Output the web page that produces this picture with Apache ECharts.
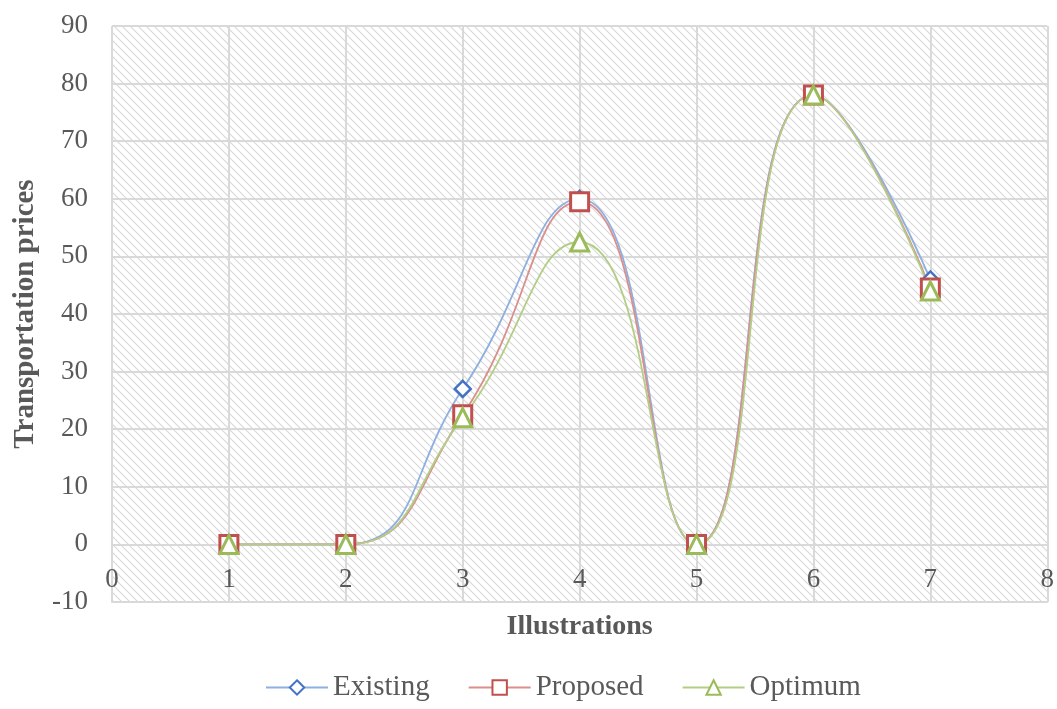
<!DOCTYPE html>
<html>
<head>
<meta charset="utf-8">
<style>
  html, body { margin: 0; padding: 0; background: #fff; }
  #chart { width: 1057px; height: 709px; }
</style>
<script src="https://cdn.jsdelivr.net/npm/echarts@6/dist/echarts.min.js"></script>
</head>
<body>
<div id="chart"></div>
<script>
// illustrations (x values)
var illustrations = [1, 2, 3, 4, 5, 6, 7];
// transportation prices per method
var existing = [0, 0, 27, 60, 0, 78, 46];
var proposed = [0, 0, 22.5, 59.5, 0, 78, 44.5];
var optimum = [0, 0, 22, 52.5, 0, 78, 44];

var seriesNames = ['Existing', 'Proposed', 'Optimum'];

function pairs(xs, ys) {
	var out = [];
	for (var i = 0; i < xs.length; i++) {
		out.push([xs[i], ys[i]]);
	}
	return out;
}

// diagonal hatch for the plot area
function hatchPattern() {
	var s = 8;
	var c = document.createElement('canvas');
	c.width = s;
	c.height = s;
	var ctx = c.getContext('2d');
	ctx.fillStyle = '#ffffff';
	ctx.fillRect(0, 0, s, s);
	ctx.strokeStyle = '#d9d9d9';
	ctx.lineWidth = 1.2;
	ctx.beginPath();
	ctx.moveTo(-1, -1); ctx.lineTo(s + 1, s + 1);
	ctx.moveTo(s - 1, -1); ctx.lineTo(s + 1, 1);
	ctx.moveTo(-1, s - 1); ctx.lineTo(1, s + 1);
	ctx.stroke();
	return { image: c, repeat: 'repeat' };
}

var myChart = echarts.init(document.getElementById('chart'));
var font = '"Liberation Serif", "Times New Roman", serif';

var option = {
	backgroundColor: '#ffffff',
	textStyle: { fontFamily: font },
	grid: {
		left: 112,
		right: 7,
		top: 26,
		bottom: 107,
		show: true,
		backgroundColor: hatchPattern(),
		borderWidth: 0
	},
	legend: {
		data: seriesNames,
		bottom: 2,
		left: 260,
		itemWidth: 62,
		itemHeight: 18,
		itemGap: 38,
		textStyle: { fontFamily: font, fontSize: 29, color: '#595959' }
	},
	xAxis: {
		type: 'value',
		min: 0,
		max: 8,
		interval: 1,
		name: 'Illustrations',
		nameLocation: 'middle',
		nameGap: 11,
		nameTextStyle: { fontFamily: font, fontSize: 28, fontWeight: 'bold', color: '#595959', verticalAlign: 'top' },
		axisLine: { show: true, onZero: false, lineStyle: { color: '#d9d9d9', width: 2 } },
		axisTick: { show: false },
		axisLabel: { fontFamily: font, fontSize: 27, color: '#595959', margin: -36 },
		splitLine: { show: true, lineStyle: { color: '#d9d9d9', width: 2 } }
	},
	yAxis: {
		type: 'value',
		min: -10,
		max: 90,
		interval: 10,
		name: 'Transportation prices',
		nameLocation: 'middle',
		nameGap: 72,
		nameTextStyle: { fontFamily: font, fontSize: 29, fontWeight: 'bold', color: '#595959' },
		axisLine: { show: false },
		axisTick: { show: false },
		axisLabel: { fontFamily: font, fontSize: 27, color: '#595959', margin: 24 },
		splitLine: { show: true, lineStyle: { color: '#d9d9d9', width: 2 } }
	},
	series: [
		{
			name: 'Existing',
			type: 'line',
			smooth: 0.5,
			data: pairs(illustrations, existing),
			symbol: 'diamond',
			symbolSize: 16,
			color: '#4472c4',
			lineStyle: { color: '#8eb0e0', width: 1.8 },
			itemStyle: { color: '#ffffff', borderColor: '#4472c4', borderWidth: 2.5 }
		},
		{
			name: 'Proposed',
			type: 'line',
			smooth: 0.5,
			data: pairs(illustrations, proposed),
			symbol: 'rect',
			symbolSize: 18,
			color: '#c0504d',
			lineStyle: { color: '#d98f8d', width: 1.8 },
			itemStyle: { color: '#ffffff', borderColor: '#c0504d', borderWidth: 3 }
		},
		{
			name: 'Optimum',
			type: 'line',
			smooth: 0.5,
			data: pairs(illustrations, optimum),
			symbol: 'triangle',
			symbolSize: 18,
			color: '#9bbb59',
			lineStyle: { color: '#b3cd85', width: 1.8 },
			itemStyle: { color: '#ffffff', borderColor: '#9bbb59', borderWidth: 3 }
		}
	]
};

myChart.setOption(option);
</script>
</body>
</html>
